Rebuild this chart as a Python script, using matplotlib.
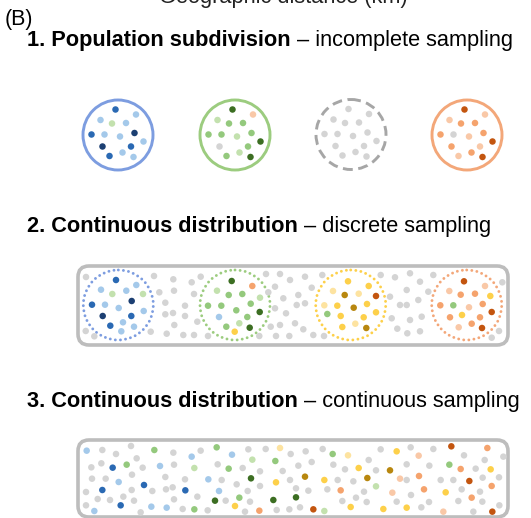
import numpy as np
import matplotlib
matplotlib.use('Agg')
import matplotlib.pyplot as plt
from matplotlib.patches import Circle, FancyBboxPatch

plt.rcParams["font.family"] = ["Liberation Sans", "DejaVu Sans"]

# colour codes for the sampled individuals
COLORS = {
    'nv': '#1c3f72', 'mb': '#2a69b3', 'lb': '#a4c9ea',
    'dg': '#3c6e22', 'g': '#94c97d', 'pg': '#c3e1ae',
    'dy': '#b8870f', 'y': '#fdd04a', 'py': '#fde3a0',
    'do': '#c3550f', 'o': '#f5a36d', 'pk': '#f9c8a7',
    'gr': '#d4d4d4',
}
RING = {'blue': '#7d9de0', 'green': '#9ccc7f', 'gray': '#a6a6a6',
        'yellow': '#fdd04a', 'orange': '#f3a779'}

titles_bold = ["1. Population subdivision", "2. Continuous distribution",
               "3. Continuous distribution"]
titles_rest = [" \u2013 incomplete sampling", " \u2013 discrete sampling",
               " \u2013 continuous sampling"]

# --- panel 1: four isolated demes (same 15-point layout, offsets from centre)
deme_layout = [(-2.5, -25.5), (18, -20.5), (-17.5, -15), (-6, -11.5), (8, -12),
               (-26.5, -0.5), (-13.5, -0.5), (2, 1.5), (16.5, -2), (25.5, 6.5),
               (-15.5, 11.5), (13, 11.5), (-8.5, 21), (4.5, 17.5), (15.5, 22)]
p1_centres = [(118, 135), (235, 135), (351, 134.5), (467, 135)]
p1_rings = ['blue', 'green', 'gray', 'orange']
p1_colors = [
    ['mb', 'lb', 'lb', 'pg', 'lb', 'mb', 'lb', 'lb', 'nv', 'lb', 'nv', 'mb', 'mb', 'lb', 'lb'],
    ['dg', 'pk', 'pg', 'g', 'g', 'g', 'g', 'pg', 'g', 'dg', 'gr', 'g', 'g', 'pg', 'dg'],
    ['gr'] * 15,
    ['do', 'pk', 'pk', 'o', 'o', 'o', 'gr', 'pk', 'o', 'do', 'o', 'pk', 'pk', 'o', 'do'],
]

# --- panel 2: sampled demes inside a continuous range (pixel positions)
p2_centres = [(118.3, 305), (235, 305), (350.7, 305), (466.7, 305)]
p2_rings = ['blue', 'green', 'yellow', 'orange']
p2_samples = [
    [(116, 280, 'mb'), (136.3, 285, 'lb'), (101, 289.7, 'lb'), (112.3, 294, 'pg'),
     (126.3, 290.7, 'lb'), (143, 294, 'pg'), (92, 304.7, 'mb'), (105, 304.7, 'lb'),
     (118.7, 308, 'lb'), (131.7, 301, 'nv'), (143.7, 311, 'lb'), (102.7, 316, 'nv'),
     (131.3, 316, 'mb'), (110.3, 325.7, 'mb'), (123, 322.3, 'lb'), (134, 326.7, 'lb'),
     (121.3, 331.3, 'lb')],
    [(231.7, 281, 'dg'), (252.3, 286, 'o'), (217, 290.7, 'pg'), (228.7, 295, 'g'),
     (242.3, 294, 'g'), (260, 297.7, 'pg'), (208, 305.7, 'g'), (221.3, 305.7, 'g'),
     (236.3, 310.3, 'g'), (250.7, 303.7, 'g'), (259.7, 312, 'dg'), (219, 317, 'lb'),
     (247.3, 317, 'g'), (226.3, 326.7, 'g'), (239.3, 323.3, 'pg'), (249.7, 327.7, 'dg'),
     (234.7, 331.7, 'y')],
    [(348, 281.3, 'y'), (368.7, 286, 'y'), (333, 291, 'py'), (344.7, 295, 'dy'),
     (358.7, 293.7, 'py'), (376, 296, 'do'), (324.3, 305.3, 'py'), (337.3, 305.7, 'y'),
     (353.7, 307.7, 'dy'), (367, 304, 'y'), (376, 312.3, 'y'), (327.3, 314, 'g'),
     (340.7, 316, 'y'), (363.7, 317.3, 'y'), (342.3, 327, 'y'), (355.3, 323.7, 'py'),
     (366.3, 328, 'dy')],
    [(464, 281.3, 'do'), (485, 286, 'pk'), (449.3, 291, 'pk'), (460.7, 294.7, 'o'),
     (475, 293.7, 'o'), (490.3, 296, 'y'), (440.3, 305.3, 'o'), (453.3, 305.3, 'g'),
     (469, 307.3, 'pk'), (482.7, 304, 'o'), (491.7, 312, 'do'), (462, 315, 'y'),
     (450, 317.3, 'o'), (480, 317.3, 'o'), (458.7, 327.3, 'pk'), (471.7, 323.7, 'o'),
     (482, 328, 'do')],
]
p2_unsampled_x = [86, 85.7, 94.3, 154, 173.3, 159.3, 174, 165.3, 165.3, 173, 174.3,
                  150.7, 166.7, 191.7, 200.7, 194, 185, 185, 197.3, 183.3, 194, 208,
                  266, 280, 290, 275, 268.3, 283.3, 298.3, 275, 286, 296.7, 270.7,
                  280, 295, 259.3, 276, 289.3, 305, 322.3, 311.7, 305, 303.3, 313.3,
                  324, 380.7, 395, 410, 420, 433.3, 406.7, 390, 400, 406.7, 418.3,
                  428.3, 391.7, 410, 421.7, 397.3, 407.3, 420, 502.3, 499, 491.7]
p2_unsampled_y = [277, 331, 336.3, 276, 279.3, 292.3, 290.7, 302.7, 314.3, 313, 325,
                  331.7, 333.7, 282.3, 276.7, 294, 305.7, 316, 321.7, 335, 335, 336,
                  274, 274, 280, 286.7, 292.3, 298.3, 295, 308.3, 313.3, 305, 326.7,
                  325, 323.3, 336, 336, 336, 276.7, 275, 287.7, 303.3, 329.3, 335,
                  336, 275, 277.3, 273.3, 281.7, 275, 290, 296.7, 305, 305, 300,
                  291.7, 318.3, 320, 316.7, 328.7, 333.3, 331.3, 282.3, 331, 337.7]

# --- panel 3: individuals sampled everywhere (read at 3x from two crops)
p3_left_origin = (60, 430)
p3_left = [
    (80, 62, 'lb'), (127, 60, 'gr'), (168, 72, 'gr'), (213, 48, 'gr'), (283, 60, 'g'),
    (340, 68, 'gr'), (395, 80, 'lb'), (422, 62, 'gr'), (470, 52, 'g'), (516, 74, 'lb'),
    (565, 58, 'gr'), (617, 57, 'gr'), (660, 54, 'py'), (692, 72, 'gr'),
    (94, 112, 'gr'), (124, 100, 'gr'), (158, 113, 'mb'), (200, 104, 'g'), (230, 85, 'gr'),
    (248, 113, 'gr'), (300, 108, 'lb'), (342, 104, 'gr'), (403, 114, 'pg'), (473, 103, 'gr'),
    (506, 116, 'g'), (548, 114, 'gr'), (577, 89, 'pg'), (600, 124, 'gr'), (646, 93, 'g'),
    (668, 123, 'gr'), (715, 107, 'gr'),
    (96, 146, 'gr'), (137, 146, 'gr'), (176, 156, 'lb'), (216, 134, 'gr'), (252, 165, 'mb'),
    (277, 183, 'gr'), (316, 141, 'gr'), (318, 178, 'gr'), (338, 172, 'gr'), (376, 181, 'mb'),
    (375, 148, 'gr'), (445, 148, 'lb'), (485, 150, 'gr'), (477, 183, 'lb'), (530, 163, 'gr'),
    (573, 145, 'dg'), (563, 183, 'gr'), (600, 168, 'gr'), (648, 157, 'y'), (690, 150, 'gr'),
    (78, 186, 'gr'), (127, 180, 'mb'), (113, 207, 'gr'), (150, 210, 'gr'), (190, 200, 'gr'),
    (215, 180, 'gr'), (222, 212, 'gr'), (182, 226, 'mb'), (78, 226, 'gr'), (103, 243, 'lb'),
    (242, 247, 'gr'), (274, 230, 'lb'), (320, 233, 'lb'), (342, 208, 'gr'), (368, 237, 'gr'),
    (403, 238, 'g'), (412, 200, 'gr'), (443, 241, 'gr'), (465, 212, 'dg'), (497, 212, 'gr'),
    (538, 203, 'g'), (525, 228, 'y'), (570, 215, 'gr'), (598, 242, 'o'), (555, 245, 'gr'),
    (640, 210, 'dg'), (650, 240, 'gr'), (688, 238, 'gr'), (708, 202, 'dg'),
]
p3_right_origin = (290, 430)
p3_right = [
    (47, 64, 'gr'), (98, 57, 'gr'), (128, 72, 'g'), (174, 76, 'py'), (65, 96, 'gr'),
    (130, 104, 'gr'), (165, 118, 'gr'), (206, 114, 'y'), (236, 90, 'gr'), (272, 58, 'gr'),
    (320, 64, 'y'), (362, 52, 'gr'), (386, 77, 'pk'), (430, 57, 'gr'), (484, 49, 'do'),
    (522, 76, 'gr'), (592, 54, 'o'), (640, 80, 'gr'),
    (45, 140, 'dy'), (103, 150, 'y'), (143, 150, 'gr'), (190, 154, 'gr'), (232, 144, 'dy'),
    (258, 121, 'gr'), (300, 121, 'dy'), (350, 103, 'gr'), (418, 107, 'gr'), (478, 104, 'g'),
    (512, 117, 'o'), (557, 116, 'gr'), (602, 118, 'y'), (584, 90, 'gr'), (627, 142, 'gr'),
    (330, 146, 'pk'), (350, 150, 'gr'), (387, 138, 'o'), (452, 150, 'gr'), (490, 150, 'gr'),
    (538, 153, 'do'), (578, 143, 'gr'),
    (18, 175, 'gr'), (55, 182, 'gr'), (112, 178, 'gr'), (152, 181, 'o'), (222, 185, 'gr'),
    (258, 169, 'pg'), (307, 188, 'pk'), (363, 195, 'gr'), (402, 178, 'o'), (467, 187, 'y'),
    (515, 178, 'gr'), (545, 203, 'o'), (570, 185, 'gr'), (605, 168, 'o'),
    (30, 232, 'gr'), (70, 238, 'do'), (103, 243, 'pg'), (157, 213, 'gr'), (182, 231, 'y'),
    (198, 203, 'gr'), (230, 216, 'gr'), (280, 237, 'y'), (320, 215, 'gr'), (350, 233, 'y'),
    (394, 232, 'gr'), (417, 216, 'gr'), (460, 245, 'pk'), (505, 213, 'gr'), (550, 245, 'gr'),
    (577, 215, 'gr'), (607, 245, 'do'), (628, 226, 'gr'),
]

DOT = 22      # marker area (pt^2)
RING_LW = 2.1
FS = 15.7


def dots(ax, xs, ys, codes):
    ax.scatter(xs, ys, s=DOT, c=[COLORS[k] for k in codes], linewidths=0, zorder=3)


def title(ax, y, bold, rest):
    t = ax.text(27, y, bold, fontsize=FS, fontweight='bold', va='baseline', ha='left')
    ax.annotate(rest, xy=(1, 0), xycoords=t, fontsize=FS, va='bottom', ha='left',
                annotation_clip=False)


fig = plt.figure(figsize=(5.31, 5.18), dpi=100)
ax = fig.add_axes([0, 0, 1, 1])
ax.set_xlim(0, 531)
ax.set_ylim(518, 0)
ax.axis('off')

# axis label of the panel above, cut by the top edge as in the source figure
ax.text(283, 2.5, "Geographic distance (km)", fontsize=FS, ha='center', va='baseline',
        color='#222222')
ax.text(5, 25, "(B)", fontsize=15.5, va='baseline', ha='left')

for i in range(3):
    title(ax, [45.7, 232, 407][i], titles_bold[i], titles_rest[i])

# panel 1
for (cx, cy), ring, cols in zip(p1_centres, p1_rings, p1_colors):
    ls = (0, (3.4, 1.9)) if ring == 'gray' else '-'
    ax.add_patch(Circle((cx, cy), 35, fill=False, ec=RING[ring], lw=RING_LW, ls=ls))
    off = np.array(deme_layout)
    dots(ax, cx + off[:, 0], cy + off[:, 1], cols)

# panel 2
ax.add_patch(FancyBboxPatch((78, 266), 430, 79, boxstyle="round,pad=0,rounding_size=11",
                            fill=False, ec='#bdbdbd', lw=2.6))
dots(ax, p2_unsampled_x, p2_unsampled_y, ['gr'] * len(p2_unsampled_x))
for (cx, cy), ring, pts in zip(p2_centres, p2_rings, p2_samples):
    c = Circle((cx, cy), 35, fill=False, ec=RING[ring], lw=RING_LW,
               ls=(0, (0.01, 1.75)), capstyle='round')
    ax.add_patch(c)
    xs, ys, cs = zip(*pts)
    dots(ax, xs, ys, cs)

# panel 3
ax.add_patch(FancyBboxPatch((78, 440), 430, 77, boxstyle="round,pad=0,rounding_size=11",
                            fill=False, ec='#bdbdbd', lw=2.6))
for (ox, oy), pts in [(p3_left_origin, p3_left), (p3_right_origin, p3_right)]:
    zx, zy, cs = zip(*pts)
    dots(ax, ox + np.array(zx) / 3, oy + np.array(zy) / 3, cs)

fig.savefig('out.png', dpi=100)
